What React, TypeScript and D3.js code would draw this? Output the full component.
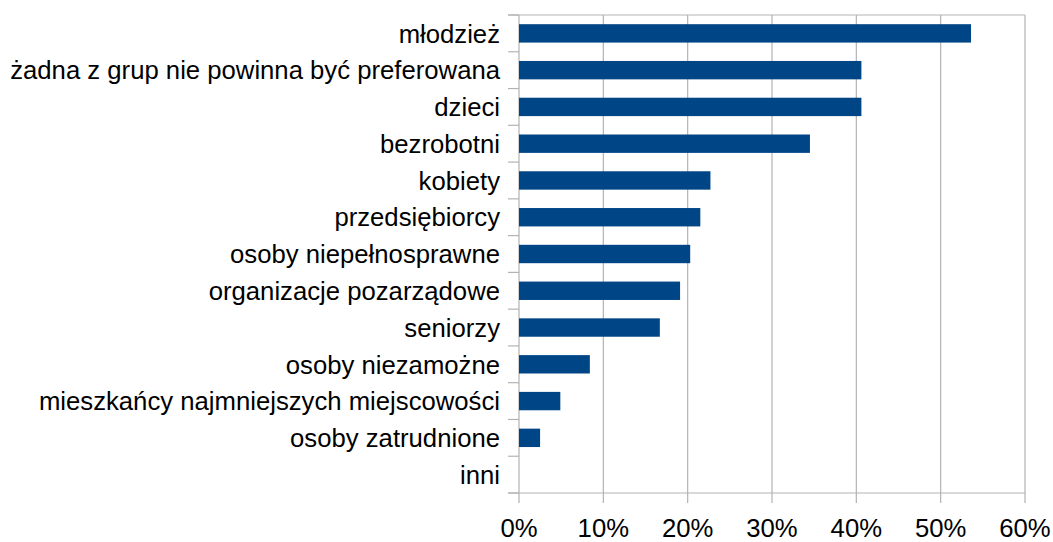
import * as d3 from 'd3';

const categories = [
  'młodzież',
  'żadna z grup nie powinna być preferowana',
  'dzieci',
  'bezrobotni',
  'kobiety',
  'przedsiębiorcy',
  'osoby niepełnosprawne',
  'organizacje pozarządowe',
  'seniorzy',
  'osoby niezamożne',
  'mieszkańcy najmniejszych miejscowości',
  'osoby zatrudnione',
  'inni',
];

const shares = [53.6, 40.6, 40.6, 34.5, 22.7, 21.5, 20.3, 19.1, 16.7, 8.4, 4.9, 2.5, 0];

const xTicks = [0, 10, 20, 30, 40, 50, 60];

const W = 1053;
const H = 542;
const left = 519;
const right = 1025;
const top = 15;
const bottom = 493;
const font = '"Liberation Sans", Arial, sans-serif';
const grid = '#b3b3b3';

export default function App() {
  const x = d3.scaleLinear().domain([0, 60]).range([left, right]);
  const y = d3.scaleBand<string>().domain(categories).range([top, bottom]).paddingInner(0.5).paddingOuter(0.25);
  const band = d3.scaleBand<string>().domain(categories).range([top, bottom]);
  const boundaries = categories.map((c) => band(c) as number).concat([bottom]);

  return (
    <svg
      width={W}
      height={H}
      style={{ position: 'absolute', left: 0, top: 0, background: '#fff' }}
      fontFamily={font}
    >
      {xTicks.map((t) => (
        <g key={t}>
          <line x1={x(t)} x2={x(t)} y1={top} y2={bottom + 10} stroke={grid} strokeWidth={1.2} />
          <text x={x(t)} y={537} fontSize={25.7} textAnchor="middle" fill="#000">
            {t}%
          </text>
        </g>
      ))}
      <line x1={left - 11} x2={right} y1={top} y2={top} stroke={grid} strokeWidth={1.2} />
      <line x1={left - 11} x2={right} y1={bottom} y2={bottom} stroke={grid} strokeWidth={1.2} />
      {boundaries.map((b, i) => (
        <line key={i} x1={left - 11} x2={left} y1={b} y2={b} stroke={grid} strokeWidth={1.2} />
      ))}
      {categories.map((c, i) => (
        <rect
          key={c}
          x={x(0)}
          y={y(c)}
          width={x(shares[i]) - x(0)}
          height={y.bandwidth()}
          fill="#004586"
        />
      ))}
      {categories.map((c) => (
        <text
          key={c}
          x={500}
          y={(band(c) as number) + band.bandwidth() / 2}
          dy="0.36em"
          fontSize={25.7}
          textAnchor="end"
          fill="#000"
        >
          {c}
        </text>
      ))}
    </svg>
  );
}
